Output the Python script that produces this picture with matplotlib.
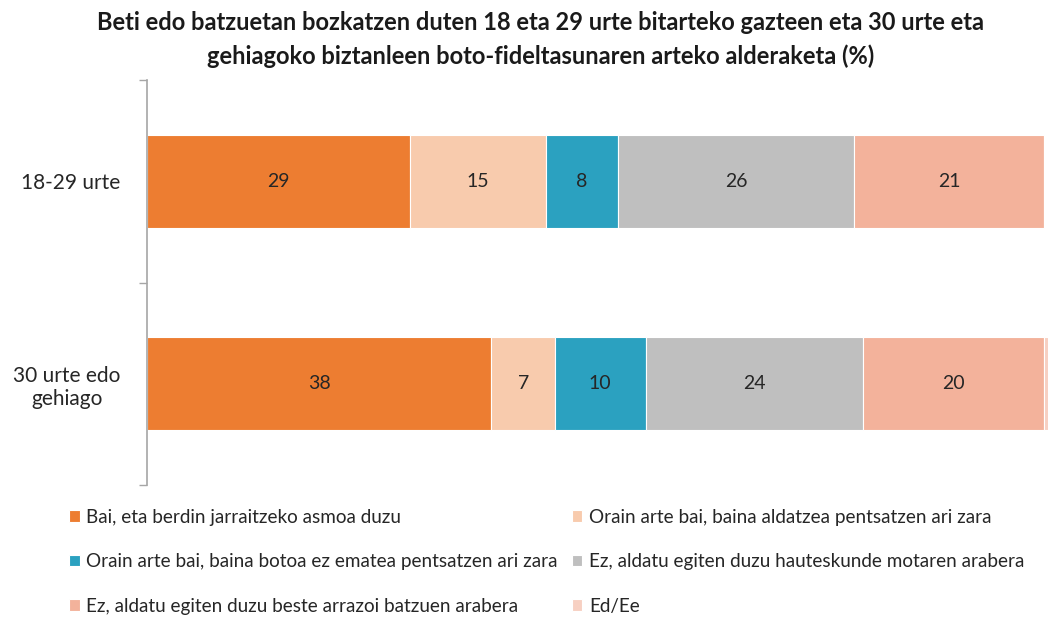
import matplotlib.pyplot as plt
import numpy as np

# Adin taldeak eta erantzun kategoriak
groups = ['18-29 urte', '30 urte edo\ngehiago']
answers = [
    'Bai, eta berdin jarraitzeko asmoa duzu',
    'Orain arte bai, baina aldatzea pentsatzen ari zara',
    'Orain arte bai, baina botoa ez ematea pentsatzen ari zara',
    'Ez, aldatu egiten duzu hauteskunde motaren arabera',
    'Ez, aldatu egiten duzu beste arrazoi batzuen arabera',
    'Ed/Ee',
]
# portzentajeak, talde bakoitzeko
values_18_29 = [29, 15, 8, 26, 21, 0]
values_30_plus = [38, 7, 10, 24, 20, 1]
colors = ['#ED7D31', '#F8CBAD', '#2BA1C0', '#BFBFBF', '#F3B29B', '#F7D0C2']

plt.rcParams['font.family'] = ['Lato', 'DejaVu Sans']

data = np.array([values_18_29, values_30_plus])
fig = plt.figure(figsize=(10.48, 6.17), dpi=100)
ax = fig.add_axes([0.1403, 0.214, 0.8597, 0.656])

y = np.arange(len(groups))
left = np.zeros(len(groups))
handles = []
for i, answer in enumerate(answers):
    bars = ax.barh(y, data[:, i], left=left, height=0.46, color=colors[i],
                   edgecolor='white', linewidth=0.8, label=answer)
    handles.append(bars)
    for j, v in enumerate(data[:, i]):
        if answer != 'Ed/Ee' and v > 0:
            ax.text(left[j] + v / 2, y[j], f'{v:g}', ha='center', va='center',
                    fontsize=14, color='#262626')
    left += data[:, i]

ax.set_xlim(0, 99.4)
ax.set_ylim(1.5, -0.5)
ax.set_xticks([])
ax.set_yticks(y)
ax.set_yticklabels(groups, fontsize=15, color='#262626', multialignment='center')
ax.set_yticks([-0.5, 0.5, 1.5], minor=True)
ax.tick_params(axis='y', which='major', length=0, pad=19)
ax.tick_params(axis='y', which='minor', length=6, color='#A6A6A6', width=1)
for side in ['top', 'right', 'bottom']:
    ax.spines[side].set_visible(False)
ax.spines['left'].set_color('#A6A6A6')
ax.spines['left'].set_linewidth(1.2)

fig.text(0.516, 0.936,
         'Beti edo batzuetan bozkatzen duten 18 eta 29 urte bitarteko gazteen eta 30 urte eta\n'
         'gehiagoko biztanleen boto-fideltasunaren arteko alderaketa (%)',
         ha='center', va='center', fontsize=17, fontweight='bold',
         color='#1a1a1a', linespacing=1.5)

# legenda: errenkadaka ordenatuta, bi zutabetan
order = [0, 2, 4, 1, 3, 5]
fig.legend([handles[k] for k in order], [answers[k] for k in order],
           loc='upper left', bbox_to_anchor=(0.050, 0.203), ncol=2, frameon=False,
           fontsize=13.6, handlelength=0.55, handleheight=0.55, handletextpad=0.35,
           labelspacing=1.45, columnspacing=0.75, labelcolor='#262626')

fig.savefig('out.png', dpi=100)
